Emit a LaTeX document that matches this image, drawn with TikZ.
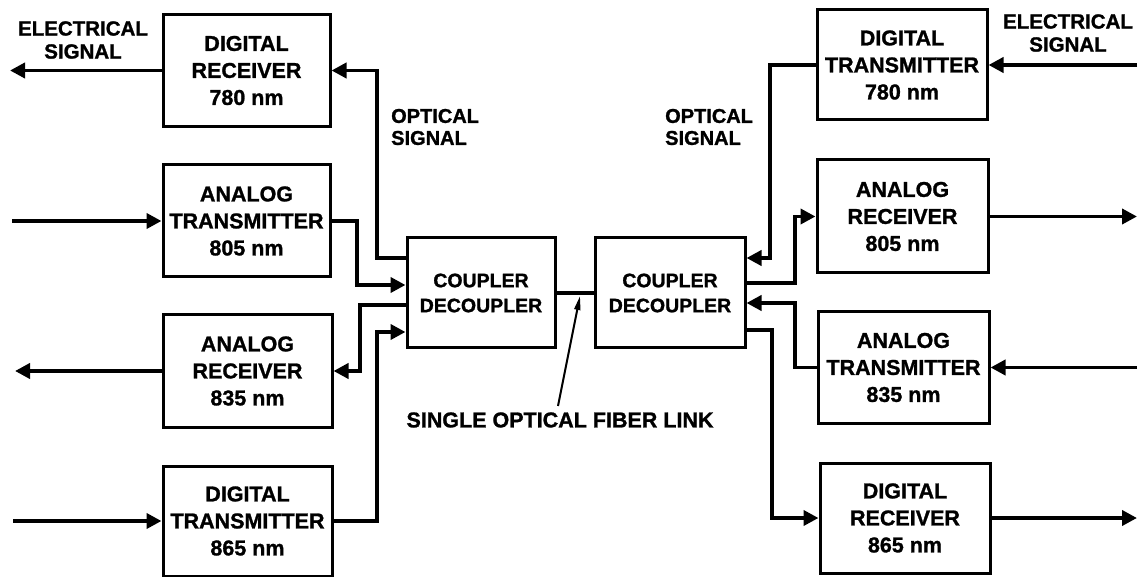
\documentclass[tikz,border=0pt]{standalone}
\usepackage{fontspec}
\setmainfont{Liberation Sans}[BoldFeatures={FakeBold=1.2}]
\usetikzlibrary{arrows.meta}
\begin{document}
\begin{tikzpicture}[x=1pt,y=-1pt,
  box/.style={draw=black,line width=3pt,minimum width=167pt,minimum height=112pt,
    align=center,inner sep=0pt,font=\bfseries\fontsize{21.5}{27}\selectfont},
  cbox/.style={box,minimum width=148pt,minimum height=110pt,font=\bfseries\fontsize{19.5}{25}\selectfont},
  lbl/.style={align=center,inner sep=0pt,font=\bfseries\fontsize{20.5}{23}\selectfont},
  olbl/.style={align=left,inner sep=0pt,anchor=west,font=\bfseries\fontsize{20}{22}\selectfont},
  conn/.style={line width=3.8pt,-{Triangle[length=15pt,width=15pt]}},
  plain/.style={line width=3.8pt},
  ptr/.style={line width=2pt,-{Stealth[length=14pt,width=6pt,inset=0pt]}}]
\useasboundingbox (0,0) rectangle (1141,577);
% left column
\node[box] (dr780) at (246.5,70.5) {DIGITAL\\RECEIVER\\780 nm};
\node[box] (at805) at (246.5,221) {ANALOG\\TRANSMITTER\\805 nm};
\node[box,minimum width=169pt] (ar835) at (247.5,371) {ANALOG\\RECEIVER\\835 nm};
\node[box,minimum width=169pt,minimum height=110pt] (dt865) at (247.5,521) {DIGITAL\\TRANSMITTER\\865 nm};
% couplers
\node[cbox] (lc) at (481,293) {COUPLER\\DECOUPLER};
\node[cbox,minimum width=150pt] (rc) at (670,293) {COUPLER\\DECOUPLER};
% right column
\node[box,minimum width=170pt,minimum height=110pt] (dt780) at (902,65) {DIGITAL\\TRANSMITTER\\780 nm};
\node[box,minimum width=171pt,minimum height=113pt] (ar805) at (902.5,216.5) {ANALOG\\RECEIVER\\805 nm};
\node[box,minimum width=171pt,minimum height=111pt] (at835) at (903.5,367.5) {ANALOG\\TRANSMITTER\\835 nm};
\node[box,minimum width=170pt,minimum height=110pt] (dr865) at (905,518) {DIGITAL\\RECEIVER\\865 nm};
% free ends
\coordinate (e1) at (10,70.5);
\coordinate (e2) at (12,221);
\coordinate (e3) at (15,371);
\coordinate (e4) at (13,521);
\coordinate (e5) at (1137,65);
\coordinate (e6) at (1137,216.5);
\coordinate (e7) at (1137,367.5);
\coordinate (e8) at (1137,518);
\coordinate (pb) at (558,406);
\coordinate (pt) at (580,296);
% electrical connectors
\draw[conn] (dr780.west) -- (e1);
\draw[conn] (e2) -- (at805.west);
\draw[conn] (ar835.west) -- (e3);
\draw[conn] (e4) -- (dt865.west);
\draw[conn] (e5) -- (dt780.east);
\draw[conn] (ar805.east) -- (e6);
\draw[conn] (e7) -- (at835.east);
\draw[conn] (dr865.east) -- (e8);
% optical connectors left
\draw[conn] ([yshift=35pt]lc.west) -- (377,258) |- (dr780.east);
\draw[conn] (at805.east) -- (357,221) |- ([yshift=8pt]lc.west);
\draw[conn] ([yshift=-12pt]lc.west) -- (360,305) |- (ar835.east);
\draw[conn] (dt865.east) -- (377,521) |- ([yshift=-39pt]lc.west);
% optical connectors right
\draw[conn] (dt780.west) -- (770,65) |- ([yshift=35pt]rc.east);
\draw[conn] ([yshift=10pt]rc.east) -- (795,283) |- (ar805.west);
\draw[conn] (at835.west) -- (795,367.5) |- ([yshift=-10pt]rc.east);
\draw[conn] ([yshift=-37pt]rc.east) -- (772,330) |- (dr865.west);
% fiber
\draw[plain] (lc.east) -- (rc.west);
\draw[ptr] (pb) -- (pt);
% labels
\node[lbl] (el) at (83,40) {ELECTRICAL\\SIGNAL};
\node[lbl] (er) at (1068,33) {ELECTRICAL\\SIGNAL};
\node[olbl] (ol) at (391,127) {OPTICAL\\SIGNAL};
\node[olbl] (or) at (665,127) {OPTICAL\\SIGNAL};
\node[lbl,font=\bfseries\fontsize{21.5}{23}\selectfont] (sf) at (560,420) {SINGLE OPTICAL FIBER LINK};
\end{tikzpicture}
\end{document}
